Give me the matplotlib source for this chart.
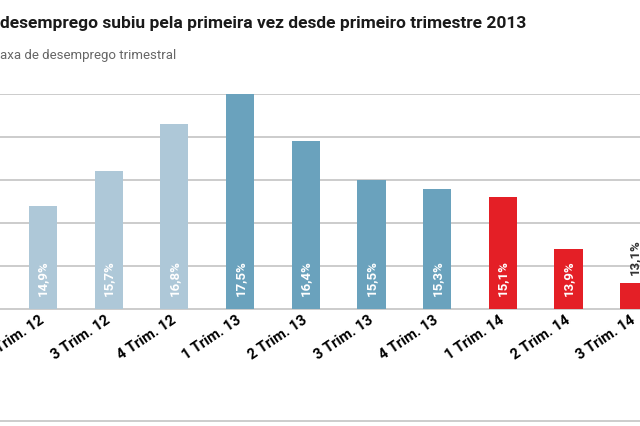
import numpy as np
import matplotlib.pyplot as plt
from matplotlib.lines import Line2D

# quarterly unemployment rate (%)
quarters = ['2 Trim. 12', '3 Trim. 12', '4 Trim. 12', '1 Trim. 13', '2 Trim. 13',
            '3 Trim. 13', '4 Trim. 13', '1 Trim. 14', '2 Trim. 14', '3 Trim. 14']
rates = [14.9, 15.7, 16.8, 17.5, 16.4, 15.5, 15.3, 15.1, 13.9, 13.1]
years = ['12', '12', '12', '13', '13', '13', '13', '14', '14', '14']

year_colors = {'12': '#aec8d8', '13': '#6aa2bd', '14': '#e41f26'}

plt.rcParams['font.family'] = ['Roboto', 'DejaVu Sans']

fig = plt.figure(figsize=(6.4, 4.26), dpi=100)
ax = fig.add_axes([0, 1 - 309 / 426, 1, (309 - 94) / 426])

base = 12.5
x = np.arange(len(rates))
colors = [year_colors[y] for y in years]
ax.bar(x, np.array(rates) - base, bottom=base, width=0.43, color=colors, zorder=3)

ax.set_xlim(-0.654, 9.087)
ax.set_ylim(base, 17.5)
ax.set_yticks(np.arange(13.5, 17.6, 1))
ax.yaxis.grid(True, color='#c8c8c8', linewidth=1.3, zorder=0)
ax.tick_params(axis='y', left=False, labelleft=False)
ax.tick_params(axis='x', length=0, pad=7)
for side in ['top', 'right', 'left']:
    ax.spines[side].set_visible(False)
ax.spines['bottom'].set_color('#c8c8c8')
ax.spines['bottom'].set_linewidth(1.3)

ax.set_xticks(x)
ax.set_xticklabels(quarters, rotation=34, ha='right', va='center',
                   rotation_mode='anchor', fontsize=10.5, fontweight='bold')

# value labels
for i, r in enumerate(rates):
    label = f'{r:.1f}%'.replace('.', ',')
    if r - base > 1.0:
        ax.annotate(label, (i, base), xytext=(0, 9), textcoords='offset points',
                    rotation=90, ha='center', va='bottom', color='white',
                    fontsize=9.5, fontweight='bold')
    else:
        ax.annotate(label, (i, r), xytext=(0, 6), textcoords='offset points',
                    rotation=90, ha='center', va='bottom', color='#333333',
                    fontsize=9.5, fontweight='bold')

fig.text(0, 1 - 28 / 426, 'desemprego subiu pela primeira vez desde primeiro trimestre 2013',
         fontsize=12.5, fontweight='bold', color='#1a1a1a', va='baseline')
fig.text(0, 1 - 59 / 426, 'axa de desemprego trimestral',
         fontsize=9.5, color='#666666', va='baseline')

fig.add_artist(Line2D([0, 1], [1 - 421 / 426] * 2, color='#c8c8c8', linewidth=1.3))

fig.savefig('out.png', dpi=100)
